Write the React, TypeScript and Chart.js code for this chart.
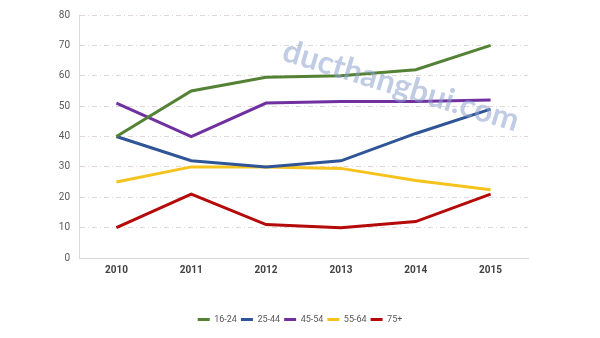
import React, { useEffect, useRef } from "react";
import { Chart, registerables } from "chart.js";

Chart.register(...registerables);

const years = ["2010", "2011", "2012", "2013", "2014", "2015"];
const s1624 = [40, 55, 59.5, 60, 62, 70];
const s2544 = [40, 32, 30, 32, 41, 49];
const s4554 = [51, 40, 51, 51.5, 51.5, 52];
const s5564 = [25, 30, 30, 29.5, 25.5, 22.5];
const s75 = [10, 21, 11, 10, 12, 21];
const seriesNames = ["16-24", "25-44", "45-54", "55-64", "75+"];
const seriesColors = ["#548235", "#2f5597", "#7030a0", "#f5c31b", "#b50a0a"];
const watermark = "ducthangbui.com";

const watermarkPlugin = {
  id: "watermark",
  afterDatasetsDraw(chart: any) {
    const ctx = chart.ctx;
    ctx.save();
    ctx.translate(401, 86);
    ctx.rotate((17 * Math.PI) / 180);
    ctx.font = "bold 32px Lato, 'Open Sans', sans-serif";
    ctx.fillStyle = "rgba(140,160,205,0.55)";
    ctx.textAlign = "center";
    ctx.textBaseline = "middle";
    ctx.fillText(watermark, 0, 0);
    ctx.restore();
  },
};

export default function App() {
  const ref = useRef<HTMLCanvasElement>(null);
  useEffect(() => {
    const data = [s1624, s2544, s4554, s5564, s75];
    const chart = new Chart(ref.current!, {
      type: "line",
      data: {
        labels: years,
        datasets: data.map((d, i) => ({
          label: seriesNames[i],
          data: d,
          borderColor: seriesColors[i],
          backgroundColor: seriesColors[i],
          borderWidth: 3,
          pointRadius: 0,
          tension: 0,
        })),
      },
      options: {
        animation: false,
        responsive: false,
        layout: { padding: { top: 14, right: 0, left: 0, bottom: 4 } },
        scales: {
          x: {
            offset: true,
            grid: { display: false, drawTicks: false },
            border: { color: "#d9d9d9" },
            ticks: {
              padding: 6,
              color: "#404040",
              font: { family: "Roboto", size: 10, weight: "bold" },
            },
            afterFit: (s: any) => {
              s.height = 53;
            },
          },
          y: {
            min: 0,
            max: 80,
            grid: {
              color: "#e0d8d8",
              drawTicks: false,
            } as any,
            border: { color: "#d9d9d9", dash: [5, 3, 1, 3] } as any,
            ticks: {
              stepSize: 10,
              padding: 9,
              color: "#595959",
              font: { family: "Roboto", size: 10 },
            },
            afterFit: (s: any) => {
              s.width = 79;
            },
          },
          yRight: {
            position: "right",
            min: 0,
            max: 80,
            grid: { display: false, drawTicks: false },
            border: { display: false },
            ticks: { display: false },
            afterFit: (s: any) => {
              s.width = 72;
            },
          },
        },
        plugins: {
          legend: {
            position: "bottom",
            labels: {
              usePointStyle: true,
              pointStyle: "line",
              pointStyleWidth: 12,
              boxWidth: 12,
              padding: 4,
              color: "#595959",
              font: { family: "Roboto", size: 9 },
            },
          },
          tooltip: { enabled: false },
        },
      },
      plugins: [watermarkPlugin],
    });
    return () => chart.destroy();
  }, []);
  return (
    <div style={{ position: "fixed", left: 0, top: 0, width: 600, height: 338, background: "#fff" }}>
      <canvas ref={ref} width={600} height={338} />
    </div>
  );
}
